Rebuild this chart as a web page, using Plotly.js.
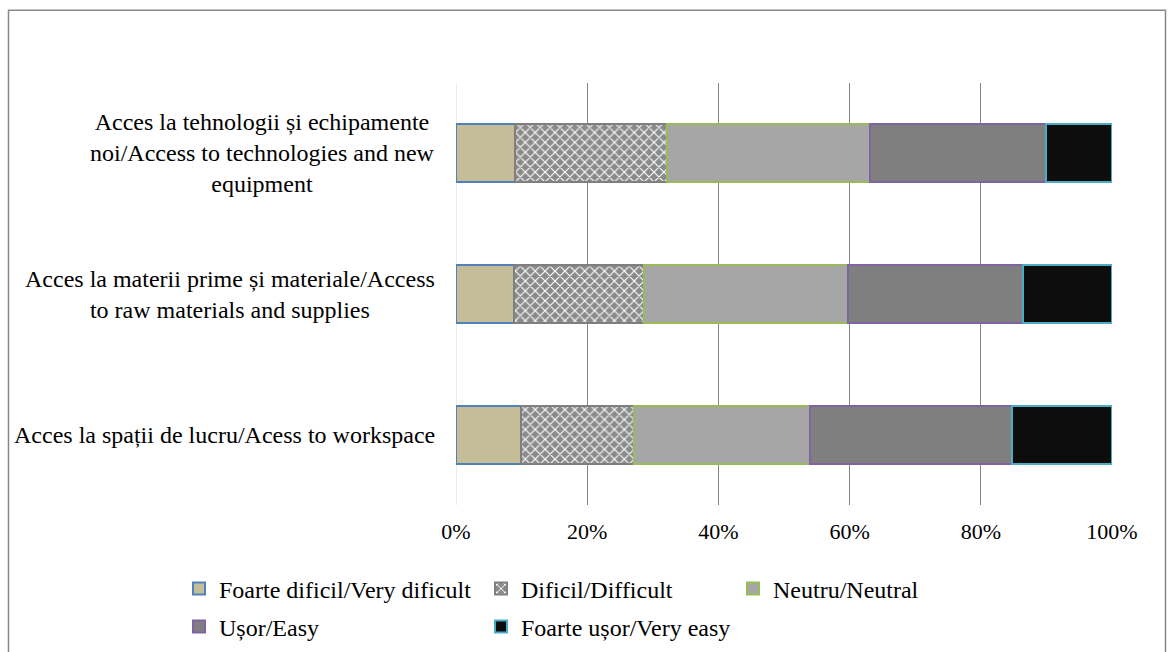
<!DOCTYPE html>
<html>
<head>
<meta charset="utf-8">
<script src="https://cdn.plot.ly/plotly-3.0.1.min.js"></script>
<style>
  html, body { margin: 0; padding: 0; background: #ffffff; }
  #chart { width: 1174px; height: 652px; }
</style>
</head>
<body>
<div id="chart"></div>
<script>
// Categories (bottom to top as drawn)
const categories = [
  "Acces la spații de lucru/Acess to workspace",
  "Acces la materii prime și materiale/Access to raw materials and supplies",
  "Acces la tehnologii și echipamente noi/Access to technologies and new equipment"
];
const categoryLabels = [
  "Acces la spații de lucru/Acess to workspace",
  "Acces la materii prime și materiale/Access<br>to raw materials and supplies",
  "Acces la tehnologii și echipamente<br>noi/Access to technologies and new<br>equipment"
];

const seriesNames = [
  "Foarte dificil/Very dificult",
  "Dificil/Difficult",
  "Neutru/Neutral",
  "Ușor/Easy",
  "Foarte ușor/Very easy"
];

// Percentages, same order as categories
const veryDifficult = [9.9, 8.8, 9.0];
const difficult     = [17.3, 19.8, 23.1];
const neutral       = [26.7, 31.2, 31.0];
const easy          = [30.8, 26.6, 26.8];
const veryEasy      = [15.3, 13.6, 10.1];

const xTickVals = [0, 20, 40, 60, 80, 100];
const xTickText = ["0%", "20%", "40%", "60%", "80%", "100%"];

const FONT = "'Liberation Serif', 'Times New Roman', Times, serif";

const styles = [
  { color: "#C4BD97", line: "#4F81BD" },
  { color: "#8C8C8C", line: "#7F7F7F", pattern: { shape: "x", fgcolor: "#FFFFFF", bgcolor: "#8A8A8A", size: 7, solidity: 0.3 } },
  { color: "#A6A6A6", line: "#9BBB59" },
  { color: "#7F7F7F", line: "#8064A2" },
  { color: "#0D0D0D", line: "#4BACC6" }
];

const values = [veryDifficult, difficult, neutral, easy, veryEasy];
const legendIds = ["legend", "legend2", "legend3", "legend4", "legend5"];

const traces = values.map((v, i) => {
  const marker = { color: styles[i].color, line: { color: styles[i].line, width: 2 } };
  if (styles[i].pattern) marker.pattern = styles[i].pattern;
  return {
    type: "bar",
    orientation: "h",
    name: seriesNames[i],
    x: v,
    y: categories,
    marker: marker,
    legend: legendIds[i],
    hovertemplate: "%{y}: %{x}%<extra>" + seriesNames[i] + "</extra>"
  };
});

// plot area: x 456..1112, y 83..505
const L = 456, R = 1112, T = 83.25, B = 504.75;
const W = R - L, H = B - T;
const px = (x) => (x - L) / W;
const py = (y) => (B - y) / H;

function legendAt(xpix, ypix) {
  return {
    xref: "container", yref: "container",
    x: xpix / 1174, y: 1 - ypix / 652, xanchor: "left", yanchor: "middle",
    orientation: "h", bgcolor: "rgba(0,0,0,0)", borderwidth: 0,
    font: { family: FONT, size: 24, color: "#000000" },
    itemwidth: 30
  };
}

const annotations = categories.map((c, i) => ({
  xref: "paper", yref: "y",
  x: px(437), y: c,
  xanchor: "right", yanchor: "middle",
  align: "center",
  text: categoryLabels[i],
  showarrow: false,
  font: { family: FONT, size: 24, color: "#000000" }
}));

const layout = {
  width: 1174, height: 652,
  margin: { l: L, r: 1174 - R, t: T, b: 652 - B, pad: 0, autoexpand: false },
  paper_bgcolor: "#FFFFFF",
  plot_bgcolor: "#FFFFFF",
  barmode: "stack",
  bargap: 0.587,
  font: { family: FONT, size: 22, color: "#000000" },
  xaxis: {
    range: [0, 100],
    tickmode: "array",
    tickvals: xTickVals,
    ticktext: xTickText,
    showgrid: true,
    gridcolor: "#878787",
    gridwidth: 1,
    zeroline: false,
    showline: false,
    ticks: "",
    ticklabelstandoff: 11,
    tickfont: { family: FONT, size: 22, color: "#000000" },
    fixedrange: true
  },
  yaxis: {
    type: "category",
    categoryorder: "array",
    categoryarray: categories,
    showticklabels: false,
    showgrid: false,
    zeroline: false,
    showline: false,
    ticks: "",
    fixedrange: true
  },
  annotations: annotations,
  shapes: [
    { type: "line", xref: "x", yref: "paper", x0: 0, x1: 0, y0: 0, y1: 1,
      line: { color: "#D9D9D9", width: 1 }, layer: "below" },
    { type: "rect", xref: "paper", yref: "paper",
      x0: px(8.5), x1: px(1165.5), y0: py(10.5), y1: py(700),
      line: { color: "#878787", width: 1.5 }, fillcolor: "rgba(0,0,0,0)" }
  ],
  legend:  legendAt(179, 589),
  legend2: legendAt(481, 589),
  legend3: legendAt(733, 589),
  legend4: legendAt(179, 627),
  legend5: legendAt(481, 627),
  showlegend: true
};

Plotly.newPlot("chart", traces, layout, { displayModeBar: false, responsive: false });
</script>
</body>
</html>
